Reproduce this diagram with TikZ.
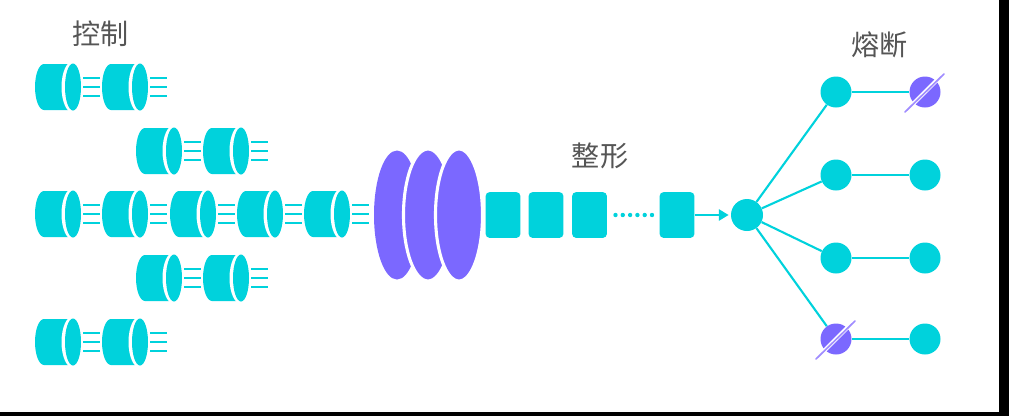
\documentclass[tikz,border=0pt]{standalone}
\usepackage{fontspec}
\newfontfamily\cjk{Noto Sans CJK SC}
\usetikzlibrary{arrows.meta}
\definecolor{tealc}{HTML}{00D2DC}
\definecolor{purplec}{HTML}{7B68FF}
\definecolor{slashc}{HTML}{A08CFF}
\definecolor{labelc}{HTML}{555555}

\begin{document}
\begin{tikzpicture}[x=0.025cm, y=-0.025cm,
        label text/.style={font=\cjk\fontsize{20}{20}\selectfont, text=labelc, inner sep=0},
        link/.style={draw=tealc, line width=1.5pt},
        packet/.style={fill=tealc, rounded corners=2.5pt, minimum width=0.8625cm, minimum height=1.1375cm, inner sep=0},
        dot/.style={circle, fill=tealc, minimum size=0.775cm, inner sep=0},
        cutdot/.style={dot, fill=purplec},
        hub/.style={dot, minimum size=0.8cm},
        cyl/.pic={
            \fill[tealc] (9,23) arc[start angle=90, end angle=270, x radius=9, y radius=23] -- (38,-23) -- (38,23) -- cycle;
            \fill[white] (38,0) ellipse (11.5 and 26);
            \fill[tealc] (38,0) ellipse (8 and 23.5);
            \foreach \sy in {-9.3,0,9.3}
                \draw[tealc, line width=1.4pt] (48,\sy) -- (65,\sy);
        }]
    \useasboundingbox (0,0) rectangle (1009,416);
    % frame edges
    \fill[black] (999,0) rectangle (1009,416);
    \fill[black] (0,412) rectangle (1009,416);

    % labels
    \node[label text] (control) at (100.5,34) {控制};
    \node[label text] (shaping) at (600,156) {整形};
    \node[label text] (breaker) at (879.5,45) {熔断};

    % queues
    \foreach \qx/\qy in {35/87, 102/87, 136/151, 203/151, 35/214, 102/214, 170/214, 237/214, 304/214, 136/278, 203/278, 35/342, 102/342}
        \pic at (\qx,\qy) {cyl};

    % lenses
    \fill[purplec] (397,215) ellipse (23 and 64.5);
    \filldraw[fill=purplec, draw=white, line width=2.2pt] (428,215) ellipse (24.5 and 66);
    \filldraw[fill=purplec, draw=white, line width=2.2pt] (459,215) ellipse (23.5 and 66);

    % packets
    \node[packet] (p1) at (503,215) {};
    \node[packet] (p2) at (546,215) {};
    \node[packet] (p3) at (589.5,215) {};
    \node[packet] (p4) at (677,215) {};
    \foreach \dx in {0,1,...,5}
        \fill[tealc] (615.5+7.3*\dx,215) circle (2.2);

    % fan out
    \node[hub] (hub) at (747,215) {};
    \node[dot] (a1) at (836,92) {};
    \node[dot] (a2) at (836,175) {};
    \node[dot] (a3) at (836,258) {};
    \node[cutdot] (a4) at (836,339) {};
    \node[cutdot] (b1) at (925,92) {};
    \node[dot] (b2) at (925,175) {};
    \node[dot] (b3) at (925,258) {};
    \node[dot] (b4) at (925,339) {};
    \draw[link, -{Stealth[length=7pt,width=8pt,inset=0pt]}, shorten >=1.5pt] (p4) -- (hub);
    \foreach \an/\bn in {a1/b1, a2/b2, a3/b3, a4/b4} {
        \draw[link] (hub) -- (\an);
        \draw[link] (\an) -- (\bn);
    }

    % cut marks
    \foreach \cn in {b1, a4} {
        \draw[white, line width=3pt] ([shift={(-15,15)}]\cn.center) -- ([shift={(15,-15)}]\cn.center);
        \draw[slashc, line width=1.2pt, line cap=round] ([shift={(-20,20)}]\cn.center) -- ([shift={(19,-18)}]\cn.center);
    }
\end{tikzpicture}
\end{document}
